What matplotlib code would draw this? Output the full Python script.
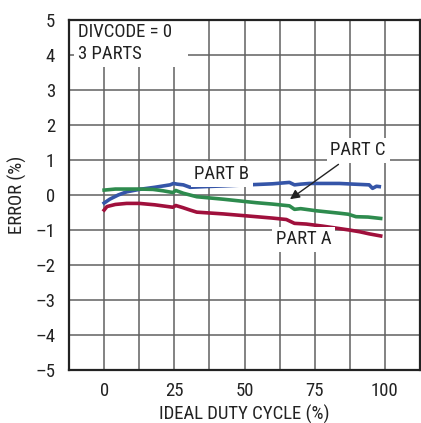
import matplotlib
matplotlib.use("Agg")
import matplotlib.pyplot as plt
from matplotlib import font_manager

fams = {f.name for f in font_manager.fontManager.ttflist}
fam = 'Liberation Sans'
for cand in ['Nimbus Sans Narrow', 'Liberation Sans Narrow', 'Roboto Condensed', 'Archivo Narrow',
             'PT Sans Narrow', 'Arial Narrow', 'Barlow Semi Condensed']:
    if cand in fams:
        fam = cand
        break
plt.rcParams['font.family'] = [fam, 'DejaVu Sans']

# Data
part_b_x = [0, 2, 5, 8, 12.5, 18, 23.5, 24.7, 26, 28.2, 30.6, 36, 42.4, 48, 54.2, 60, 66, 67.8, 70, 73.1, 78, 83.8, 89, 94.4, 95.6, 97, 98]
part_b_y = [-0.23, -0.12, 0.0, 0.09, 0.16, 0.22, 0.29, 0.33, 0.31, 0.29, 0.22, 0.24, 0.26, 0.28, 0.30, 0.32, 0.36, 0.29, 0.31, 0.33, 0.33, 0.33, 0.31, 0.29, 0.19, 0.25, 0.24]

part_c_x = [0, 4, 8, 12.5, 17.4, 21, 24.5, 25.5, 28.2, 33, 42.4, 54.2, 60, 66, 67.8, 70, 75.5, 83.8, 87, 89.7, 94, 98.5]
part_c_y = [0.14, 0.17, 0.17, 0.17, 0.16, 0.12, 0.07, 0.13, 0.05, -0.05, -0.12, -0.22, -0.26, -0.31, -0.41, -0.39, -0.45, -0.52, -0.55, -0.62, -0.63, -0.67]

part_a_x = [0, 1, 4, 8, 12.5, 18, 24.5, 25.5, 28, 30.6, 33, 42.4, 54.2, 60, 64.9, 67.8, 72, 77.9, 83, 87.3, 91, 94.4, 98.5]
part_a_y = [-0.43, -0.33, -0.27, -0.24, -0.24, -0.28, -0.35, -0.30, -0.36, -0.43, -0.49, -0.54, -0.62, -0.66, -0.70, -0.81, -0.83, -0.89, -0.95, -1.00, -1.05, -1.11, -1.17]

xticks = [0, 25, 50, 75, 100]
yticks = [-5, -4, -3, -2, -1, 0, 1, 2, 3, 4, 5]

FS = 13.5

fig = plt.figure(figsize=(4.21, 4.23), dpi=100)
ax = fig.add_axes([0.164, 0.1253, 0.8336, 0.8274])
ax.set_xlim(-12.5, 112.5)
ax.set_ylim(-5, 5)

grid_c = '#606060'
for gx in [-12.5 + 12.5 * i for i in range(1, 10)]:
    ax.axvline(gx, color=grid_c, lw=1.1, zorder=1)
for gy in yticks[1:-1]:
    ax.axhline(gy, color=grid_c, lw=1.1, zorder=1)

ax.plot(part_b_x, part_b_y, color='#3555a8', lw=2.6, zorder=3)
ax.plot(part_c_x, part_c_y, color='#2e8b4e', lw=2.6, zorder=3)
ax.plot(part_a_x, part_a_y, color='#a0103c', lw=2.6, zorder=4)

ax.set_xticks(xticks)
ax.set_yticks(yticks)
ax.set_yticklabels([str(v).replace('-', '\u2013') for v in yticks])
ax.tick_params(length=0, labelsize=FS, colors='#222222')
ax.tick_params(axis='x', pad=9)
ax.tick_params(axis='y', pad=10)
for s in ax.spines.values():
    s.set_linewidth(1.6)
    s.set_color('#222222')
    s.set_zorder(6)

ax.set_xlabel('IDEAL DUTY CYCLE (%)', fontsize=FS, color='#222222', labelpad=3)
ax.set_ylabel('ERROR (%)', fontsize=FS, color='#222222', labelpad=6)

wb = dict(facecolor='white', edgecolor='none', pad=2.5)
ax.text(-9.3, 4.92, 'DIVCODE = 0       ', fontsize=FS, va='top', ha='left', color='#222222', bbox=wb, zorder=5)
ax.text(-9.3, 4.28, '3 PARTS          ', fontsize=FS, va='top', ha='left', color='#222222', bbox=wb, zorder=5)
ax.text(42, 0.6, 'PART B', fontsize=FS, ha='center', va='center', color='#222222', bbox=wb, zorder=5)
ax.text(71, -1.27, 'PART A', fontsize=FS, ha='center', va='center', color='#222222', bbox=wb, zorder=5)
ax.annotate('PART C', xy=(66.2, -0.12), xytext=(90.5, 1.28), fontsize=FS, ha='center', va='center',
            color='#222222', bbox=wb, zorder=5,
            arrowprops=dict(arrowstyle='-|>', color='#222222', lw=1.0, shrinkA=2, shrinkB=0, mutation_scale=14))

fig.savefig('out.png', dpi=100)
